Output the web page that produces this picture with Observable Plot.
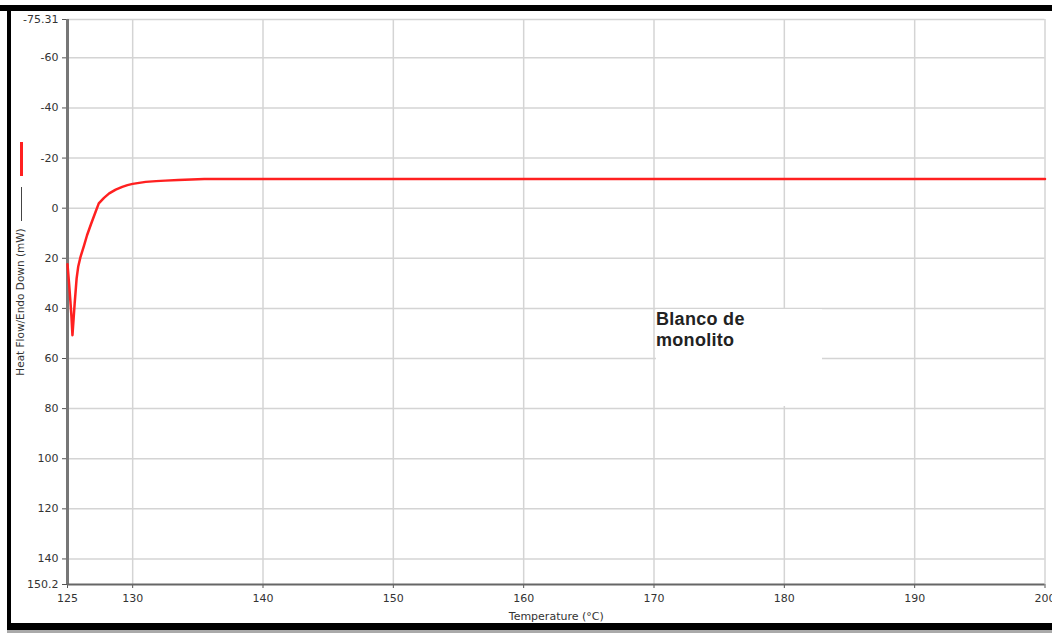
<!DOCTYPE html>
<html>
<head>
<meta charset="utf-8">
<script src="https://cdn.jsdelivr.net/npm/d3@7"></script>
<script src="https://cdn.jsdelivr.net/npm/@observablehq/plot@0.6"></script>
<style>
  html, body { margin: 0; padding: 0; background: #fff; }
  #wrap { position: relative; width: 1052px; height: 633px; overflow: hidden; font-family: "DejaVu Sans", sans-serif; }
  #chart { position: absolute; left: 0; top: 0; }
  .bd { position: absolute; background: #000; }
  .leg { position: absolute; }
  #note { position: absolute; left: 656px; top: 309px; width: 166px; height: 97px; background: #fff;
          font: bold 18px "Liberation Sans", Arial, sans-serif; color: #222; line-height: 21px; letter-spacing: 0.3px; }
</style>
</head>
<body>
<div id="wrap">
  <div id="chart"></div>
  <div id="note">Blanco de<br>monolito</div>
  <div class="leg" style="left:19.5px; top:142px; width:3px; height:34px; background:#ff2020;"></div>
  <div class="leg" style="left:20.5px; top:187px; width:1.2px; height:34px; background:#444;"></div>
  <div class="bd" style="left:0; top:5px; width:1052px; height:6px;"></div>
  <div class="bd" style="left:7px; top:5px; width:4px; height:626px;"></div>
  <div class="bd" style="left:7px; top:623px; width:1045px; height:7px;"></div>
  <div style="position:absolute; left:7px; top:630px; width:1045px; height:3px; background:#aaa;"></div>
</div>
<script>
const temperature = [125.0, 125.12, 125.22, 125.3, 125.38, 125.47, 125.55, 125.7, 125.82, 126.0, 126.25, 126.5, 126.8, 127.1, 127.4, 127.8, 128.2, 128.7, 129.2, 129.6, 130.0, 130.5, 131.0, 131.8, 132.5, 133.5, 134.5, 135.5, 140, 150, 160, 170, 180, 190, 200];
const heatFlow    = [22.4, 30, 37, 43, 50.7, 44, 38, 28, 23.4, 19.4, 15.2, 10.8, 6.4, 2.2, -1.9, -4.1, -5.9, -7.4, -8.5, -9.2, -9.7, -10.1, -10.5, -10.8, -11.0, -11.2, -11.4, -11.6, -11.6, -11.6, -11.6, -11.6, -11.6, -11.6, -11.6];
const xTicks = [125, 130, 140, 150, 160, 170, 180, 190, 200];
const yTicks = [-75.31, -60, -40, -20, 0, 20, 40, 60, 80, 100, 120, 140, 150.2];
const xGrid = [130, 140, 150, 160, 170, 180, 190, 200];
const yGrid = [-75.31, -60, -40, -20, 0, 20, 40, 60, 80, 100, 120, 140];

const data = temperature.map((t, i) => ({t, h: heatFlow[i]}));

const chart = Plot.plot({
  width: 1052,
  height: 633,
  marginLeft: 67,
  marginRight: 7.5,
  marginTop: 19,
  marginBottom: 49,
  style: {fontFamily: "DejaVu Sans, sans-serif", fontSize: "11px", color: "#333", background: "transparent"},
  x: {domain: [125, 200]},
  y: {domain: [-75.31, 150.2], reverse: true},
  marks: [
    Plot.ruleX(xGrid, {stroke: "#d4d4d4", strokeWidth: 1.5}),
    Plot.ruleY(yGrid, {stroke: "#d4d4d4", strokeWidth: 1.5}),
    Plot.axisX({ticks: xTicks, tickFormat: d => String(d), tickSize: 4, tickPadding: 6, label: "Temperature (°C)", labelAnchor: "center", labelArrow: "none", labelOffset: 35, stroke: "#555"}),
    Plot.axisY({ticks: yTicks, tickFormat: d => String(d), tickSize: 5, tickPadding: 4, label: "Heat Flow/Endo Down (mW)", labelAnchor: "center", labelArrow: "none", labelOffset: 51, fontSize: 11, stroke: "#555"}),
    Plot.ruleX([125], {stroke: "#777", strokeWidth: 3}),
    Plot.ruleY([150.2], {stroke: "#666", strokeWidth: 2}),
    Plot.line(data, {x: "t", y: "h", stroke: "#ff2020", strokeWidth: 2.5, curve: "linear"})
  ]
});
document.getElementById("chart").append(chart);
chart.querySelectorAll("g[aria-label='y-axis label'] text").forEach(t => t.setAttribute("font-size", "10.5"));
</script>
</body>
</html>
